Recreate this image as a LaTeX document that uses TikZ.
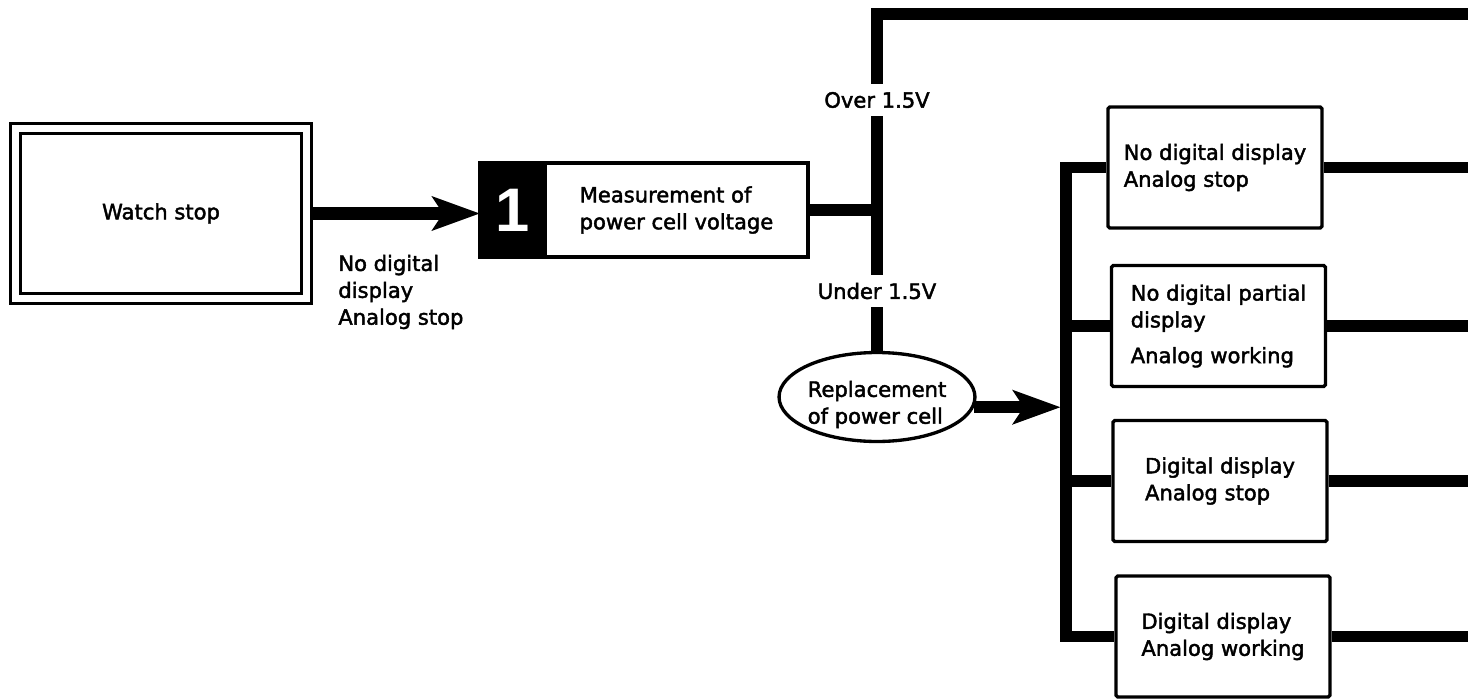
\documentclass[tikz,border=0pt]{standalone}
\usepackage{fontspec}
\setmainfont{DejaVu Sans}[BoldFont={DejaVu Sans},BoldFeatures={FakeBold=2}]
\newfontfamily\numfont{Liberation Sans}
\usepackage{tikz}
\usetikzlibrary{positioning,arrows.meta,shapes.geometric}
\usepackage{xcolor}

\begin{document}
\begin{tikzpicture}[x=0.02cm,y=-0.02cm,>={Stealth[length=27pt,width=19pt,inset=6pt]},
  every node/.style={font=\fontsize{12}{15.3}\selectfont\bfseries},
  fault/.style={draw,line width=1.9pt,rounded corners=1pt,minimum width=4.28cm,minimum height=2.42cm,align=left,inner sep=0pt},
  bus/.style={line width=6.5pt},
  feed/.style={->,line width=7pt},
  cond/.style={inner sep=4.5pt}]
\useasboundingbox (0,0) rectangle (1468,700);
\node[draw,double,line width=1.9pt,double distance=3.5pt,outer sep=3.7pt,minimum width=5.82cm,minimum height=3.4cm] (stop) at (161,213.5) {Watch stop};
\node[draw,fill=black,line width=1.9pt,outer sep=0pt,minimum width=1.3cm,minimum height=1.88cm,text=white,font=\numfont\bfseries\fontsize{35}{35}\selectfont] (num) at (512.5,210) {1};
\node[draw,line width=1.9pt,outer sep=0pt,minimum width=5.26cm,minimum height=1.88cm,align=left,right=0pt of num] (meas) {Measurement of\\power cell voltage};
\node[align=left,inner sep=0pt,anchor=west] (symptom) at (338,292) {No digital\\display\\Analog stop};
\node[cond] (over) at (877,100) {Over 1.5V};
\node[cond] (under) at (877,291) {Under 1.5V};
\node[ellipse,draw,fill=white,line width=1.9pt,minimum width=3.64cm,minimum height=1.78cm,inner sep=0pt] (repl) at (877,397) {\raisebox{-4.5pt}[\height][\depth]{\begin{tabular}{@{}l@{}}Replacement\\of power cell\end{tabular}}};
\node[fault] (ndA) at (1215,167.5) {No digital display\\Analog stop};
\node[fault] (ndB) at (1218.5,326) {No digital partial\\display\\[5pt]Analog working};
\node[fault] (ndC) at (1220,481) {Digital display\\Analog stop};
\node[fault] (ndD) at (1223,636.5) {Digital display\\Analog working};
\coordinate (topend) at (1468,14);
\coordinate (busx) at (1066,0);
\coordinate (rightx) at (1468,0);
\draw[feed] (stop.east) -- (stop.east -| num.west);
\draw[bus] (meas.east) -- (meas.east -| over);
\draw[bus] (over.south) -- (under.north);
\draw[bus] (over.north) |- (topend);
\draw[bus] (under.south) -- (repl.north);
\draw[feed,shorten >=3pt] (repl.-6) -- (repl.-6 -| busx);
\draw[bus] (ndA.west) -| (busx |- ndD.west) -- (ndD.west);
\draw[bus] (busx |- ndB.west) -- (ndB.west);
\draw[bus] (busx |- ndC.west) -- (ndC.west);
\foreach \n in {ndA,ndB,ndC,ndD}
  \draw[bus] (\n.east) -- (\n.east -| rightx);
\end{tikzpicture}
\end{document}
